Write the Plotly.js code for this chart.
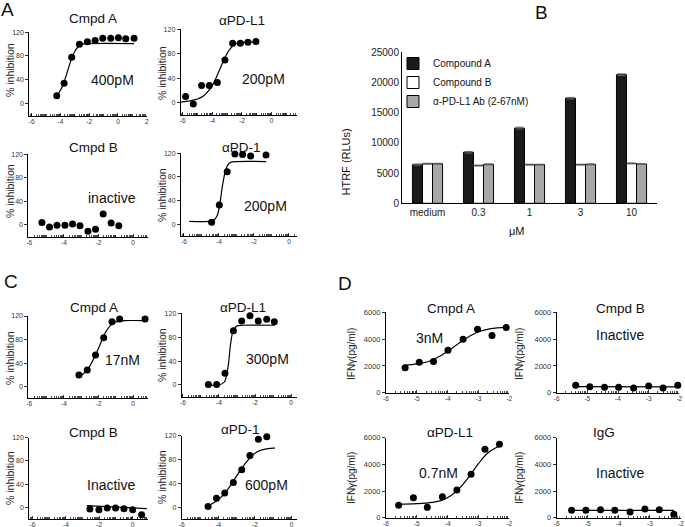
<!DOCTYPE html>
<html><head><meta charset="utf-8">
<script src="https://cdn.plot.ly/plotly-3.0.1.min.js"></script>
<style>html,body{margin:0;padding:0;background:#fff}#chart{width:685px;height:527px}</style>
</head><body><div id="chart"></div>
<script>
// ================= DATA =================
// Panel A (log[M] vs % inhibition)
const aCmpdA_x = [-4.26,-3.75,-3.22,-2.68,-2.13,-1.59,-1.06,-0.50,0.03,0.54,1.12];
const aCmpdA_y = [13,34,78,100,104,106,110,110,111,109,110];
const aCmpdA_fitX = [-4.38,-4.0,-3.75,-3.5,-3.25,-3.0,-2.75,-2.5,-2.0,1.12];
const aCmpdA_fitY = [10,22,36,55,74,88,96,100,101,101];

const aPDL1_x = [-5.80,-5.28,-4.72,-4.20,-3.66,-3.15,-2.63,-2.11,-1.60,-1.06];
const aPDL1_y = [10,-2,28,28,33,70,97,97,99,100];
const aPDL1_fitX = [-6.1,-5.5,-5.0,-4.6,-4.3,-4.0,-3.7,-3.4,-3.1,-2.8,-2.5,-2.2,-1.06];
const aPDL1_fitY = [1,3,6,11,18,28,43,60,76,88,95,98,99];

const aCmpdB_x = [-5.27,-4.83,-4.40,-3.94,-3.50,-3.07,-2.61,-2.17,-1.73,-1.27,-0.83];
const aCmpdB_y = [4,-3.4,-0.6,-0.6,1.7,-1.1,-10.8,-7.4,18.7,3.4,-1.1];

const aPD1_x = [-4.42,-3.98,-3.53,-3.09,-2.65,-2.19,-1.75,-1.31];
const aPD1_y = [3.4,32.7,89,119,118,115.5,121,117];
const aPD1_fitX = [-5.7,-4.6,-4.3,-4.1,-3.95,-3.8,-3.65,-3.5,-3.3,-3.0,-1.3];
const aPD1_fitY = [5,5,7,15,35,65,88,100,105,106,106];

// Panel B (HTRF, RLUs)
const bCategories = ['medium','0.3','1','3','10'];
const bCompoundA = [6400,8450,12450,17400,21300];
const bCompoundB = [6550,6250,6400,6400,6600];
const bAntiPDL1 = [6550,6450,6400,6450,6500];
const bErrA = [100,120,150,130,130];
const bErrB = [80,80,80,80,80];
const bErrPDL1 = [80,80,80,80,80];

// Panel C
const cCmpdA_x = [-3.13,-2.65,-2.17,-1.70,-1.22,-0.78,0.69];
const cCmpdA_y = [19.8,28.3,53.8,83.2,110.4,115,115];
const cCmpdA_fitX = [-3.1,-2.8,-2.5,-2.2,-1.9,-1.6,-1.3,-1.0,-0.5,0.7];
const cCmpdA_fitY = [17,24,35,52,72,92,104,110,112,112];

const cPDL1_x = [-4.59,-4.13,-3.67,-3.20,-2.74,-2.28,-1.82,-1.35,-0.93];
const cPDL1_y = [1,1,19.6,91,107,116,107,110,106];
const cPDL1_fitX = [-4.6,-4.0,-3.7,-3.5,-3.35,-3.2,-3.0,-2.7,-0.9];
const cPDL1_fitY = [0,0,5,30,70,92,99,100,100];

const cCmpdB_x = [-2.56,-2.02,-1.52,-1.02,-0.52,0.0,0.54];
const cCmpdB_y = [-2.9,-4,-1.1,-1.1,-2.3,-4,-12.6];
const cCmpdB_fitX = [-2.75,0.85];
const cCmpdB_fitY = [3,-2];

const cPD1_x = [-4.56,-4.10,-3.65,-3.18,-2.72,-2.27,-1.81,-1.35];
const cPD1_y = [1.1,15,23.5,41.3,62.6,86.6,114,118.4];
const cPD1_fitX = [-4.55,-4.2,-3.9,-3.6,-3.3,-3.0,-2.7,-2.4,-2.1,-1.8,-1.5,-1.0,-0.9];
const cPD1_fitY = [2,8,15,25,38,52,66,78,88,94,97,99,99];

// Panel D (IFNγ pg/ml)
const dCmpdA_x = [-5.38,-4.92,-4.46,-3.99,-3.50,-3.03,-2.56,-2.10];
const dCmpdA_y = [1870,2270,2320,3160,3980,4730,4260,4860];
const dCmpdA_fitX = [-5.4,-5.0,-4.6,-4.2,-3.9,-3.6,-3.3,-3.0,-2.6,-2.1];
const dCmpdA_fitY = [2050,2150,2350,2800,3250,3750,4200,4550,4780,4880];

const dCmpdB_x = [-5.38,-4.92,-4.44,-3.98,-3.49,-3.00,-2.53,-2.05];
const dCmpdB_y = [550,450,400,400,350,500,350,550];
const dCmpdB_fitX = [-5.38,-2.05];
const dCmpdB_fitY = [460,440];

const dPDL1_x = [-5.59,-5.11,-4.66,-4.17,-3.70,-3.24,-2.79,-2.32];
const dPDL1_y = [925,1500,775,1575,2075,3250,5125,5500];
const dPDL1_fitX = [-5.6,-5.0,-4.5,-4.2,-3.9,-3.6,-3.3,-3.0,-2.7,-2.35];
const dPDL1_fitY = [1000,1050,1150,1300,1650,2250,3100,4050,4850,5350];

const dIgG_x = [-5.52,-5.06,-4.59,-4.13,-3.64,-3.16,-2.70,-2.23];
const dIgG_y = [550,550,600,550,425,650,600,250];
const dIgG_fitX = [-5.52,-2.23];
const dIgG_fitY = [550,550];

const inhibTicks = [0,40,80,120];
const ifnTicks = [0,2000,4000,6000];
const logMinorOffsets = [0.301,0.477,0.602,0.699,0.778,0.845,0.903,0.954];

// ================= LAYOUT =================
const W = 685, H = 527;
const FONT = 'Liberation Sans, Arial, DejaVu Sans, sans-serif';
const traces = [];
const annotations = [];
const layout = {
  width: W, height: H, margin:{l:0,r:0,t:0,b:0},
  paper_bgcolor:'#fff', plot_bgcolor:'rgba(0,0,0,0)',
  showlegend:true, font:{family:FONT,color:'#000'},
  annotations: annotations,
  legend:{x:393/W, y:1-49/H, xanchor:'left', yanchor:'top', bgcolor:'rgba(0,0,0,0)',
          font:{size:10,family:FONT,color:'#111'}, itemwidth:30, tracegroupgap:0}
};

function minorVals(xr, major) {
  const out = [];
  for (let d = Math.floor(xr[0]); d < Math.ceil(xr[1]); d++) {
    if (!major.includes(d) && d >= xr[0]) out.push(d);
    logMinorOffsets.forEach(o => { const v = d + o; if (v > xr[0] && v < xr[1]) out.push(v); });
  }
  return out;
}

let idx = 0;
function panel(box, xr, yr, xticks, yticks, pts, fit, title, note, ytitle) {
  idx++;
  const sfx = idx === 1 ? '' : String(idx);
  const xa = 'xaxis' + sfx, ya = 'yaxis' + sfx;
  layout[xa] = {domain:[box.l/W, box.r/W], range:xr, anchor:'y'+sfx,
    showline:true, linecolor:'#000', linewidth:1, mirror:false,
    ticks:'inside', ticklen:3, tickwidth:0.8, tickcolor:'#000',
    tickmode:'array', tickvals:xticks, ticktext:xticks.map(v=>String(v)),
    tickfont:{size:6.5,family:FONT,color:'#333'}, ticklabelstandoff:-1,
    showgrid:false, zeroline:false, fixedrange:true,
    minor:{tickmode:'array', tickvals:minorVals(xr, xticks), ticks:'inside', ticklen:2, tickwidth:0.7, tickcolor:'#000', showgrid:false}};
  layout[ya] = {domain:[1-box.b/H, 1-box.t/H], range:yr, anchor:'x'+sfx,
    showline:true, linecolor:'#000', linewidth:1,
    ticks:'outside', ticklen:3, tickwidth:0.8, tickcolor:'#000',
    tickmode:'array', tickvals:yticks, ticktext:yticks.map(v=>String(v)),
    tickfont:{size:ytitle[4],family:FONT,color:'#333'},
    showgrid:false, zeroline:false, fixedrange:true};
  if (fit) traces.push({type:'scatter', mode:'lines', x:fit[0], y:fit[1], xaxis:'x'+sfx, yaxis:'y'+sfx,
    line:{color:'#000', width:1.2, shape:'spline', smoothing:1}, showlegend:false, hoverinfo:'skip'});
  traces.push({type:'scatter', mode:'markers', x:pts[0], y:pts[1], xaxis:'x'+sfx, yaxis:'y'+sfx,
    marker:{color:'#000', size:7}, showlegend:false, cliponaxis:false});
  annotations.push({text:title[0], x:title[1]/W, y:1-title[2]/H, xref:'paper', yref:'paper',
    showarrow:false, font:{size:13.5,family:FONT,color:'#111'}, xanchor:'center', yanchor:'middle'});
  annotations.push({text:note[0], x:note[1]/W, y:1-note[2]/H, xref:'paper', yref:'paper',
    showarrow:false, font:{size:14,family:FONT,color:'#111'}, xanchor:'center', yanchor:'middle'});
  annotations.push({text:ytitle[0], x:ytitle[1]/W, y:1-ytitle[2]/H, xref:'paper', yref:'paper',
    showarrow:false, textangle:-90, font:{size:ytitle[3],family:FONT,color:'#222'}, xanchor:'center', yanchor:'middle'});
}

const xA = [-6,-4,-2,0,2];
const xC = [-6,-4,-2,0];
const xD = [-6,-5,-4,-3,-2];
const IN = '% inhibition', IF = 'IFNγ(pg/ml)';

// Panel A
panel({l:29.3,r:147,t:32.3,b:116}, [-6.17,2.02], [-21.4,120], xA, inhibTicks,
  [aCmpdA_x,aCmpdA_y], [aCmpdA_fitX,aCmpdA_fitY], ['Cmpd A',93,18], ['400pM',113,80], [IN,10,70,10.5,7]);
panel({l:180.7,r:297,t:29.3,b:115}, [-6.13,1.71], [-20.1,120], xA, inhibTicks,
  [aPDL1_x,aPDL1_y], [aPDL1_fitX,aPDL1_fitY], ['αPD-L1',242,20], ['200pM',263,79], [IN,162,73,10.5,7]);
panel({l:28.4,r:148,t:154.3,b:236.7}, [-6.05,0.86], [-19.9,120], xC, inhibTicks,
  [aCmpdB_x,aCmpdB_y], null, ['Cmpd B',93,147], ['inactive',112,198], [IN,10,191,10.5,7]);
panel({l:181,r:297,t:153.3,b:236}, [-6.17,0.46], [-19.8,120], xA.slice(0,4), inhibTicks,
  [aPD1_x,aPD1_y], [aPD1_fitX,aPD1_fitY], ['αPD-1',241,147], ['200pM',265,206], [IN,162,195,10.5,7]);
// Panel C
panel({l:28.4,r:148,t:316,b:398}, [-6.05,0.86], [-19.2,120], xC, inhibTicks,
  [cCmpdA_x,cCmpdA_y], [cCmpdA_fitX,cCmpdA_fitY], ['Cmpd A',94,307], ['17nM',122,360], [IN,10,358,10.5,7]);
panel({l:181.7,r:297,t:313.3,b:396.7}, [-6.07,0.33], [-19.6,120], xC, inhibTicks,
  [cPDL1_x,cPDL1_y], [cPDL1_fitX,cPDL1_fitY], ['αPD-L1',243,307], ['300pM',267,359], [IN,162,355,10.5,7]);
panel({l:29.3,r:148,t:437.7,b:519}, [-6.19,0.92], [-19.9,120], xC, inhibTicks,
  [cCmpdB_x,cCmpdB_y], [cCmpdB_fitX,cCmpdB_fitY], ['Cmpd B',93,432], ['Inactive',111,485], [IN,10,478,10.5,7]);
panel({l:181.7,r:297,t:435.7,b:519}, [-6.0,0.3], [-20.1,120], xC, inhibTicks,
  [cPD1_x,cPD1_y], [cPD1_fitX,cPD1_fitY], ['αPD-1',240,429], ['600pM',266,485], [IN,162,477,10.5,7]);
// Panel D
panel({l:386,r:509.3,t:312.3,b:392.7}, [-6,-2], [0,6000], xD, ifnTicks,
  [dCmpdA_x,dCmpdA_y], [dCmpdA_fitX,dCmpdA_fitY], ['Cmpd A',451,308], ['3nM',429,338], [IF,351,354,10,7.5]);
panel({l:556.7,r:679.3,t:312.3,b:392.7}, [-6,-2], [0,6000], xD, ifnTicks,
  [dCmpdB_x,dCmpdB_y], [dCmpdB_fitX,dCmpdB_fitY], ['Cmpd B',620,308], ['Inactive',620,335], [IF,519,354,10,7.5]);
panel({l:386,r:509.3,t:437.7,b:517.7}, [-6,-2], [0,6000], xD, ifnTicks,
  [dPDL1_x,dPDL1_y], [dPDL1_fitX,dPDL1_fitY], ['αPD-L1',450,432], ['0.7nM',438,473], [IF,351,478,10,7.5]);
panel({l:556.7,r:681,t:437.7,b:517.7}, [-6,-2], [0,6000], xD, ifnTicks,
  [dIgG_x,dIgG_y], [dIgG_fitX,dIgG_fitY], ['IgG',604,432], ['Inactive',620,473], [IF,519,478,10,7.5]);

// Panel B (bar chart)
idx++;
const bs = String(idx);
layout['xaxis'+bs] = {domain:[402/W,657/W], anchor:'y'+bs, type:'category', range:[-0.5,4.5],
  showline:true, linecolor:'#000', linewidth:1, ticks:'', tickfont:{size:10,family:FONT,color:'#222'},
  showgrid:false, zeroline:false, fixedrange:true};
layout['yaxis'+bs] = {domain:[1-203.3/H,1-52.3/H], anchor:'x'+bs, range:[0,25000],
  showline:true, linecolor:'#000', linewidth:1, ticks:'', tickvals:[0,5000,10000,15000,20000,25000],
  ticktext:['0','5000','10000','15000','20000','25000'], tickfont:{size:10,family:FONT,color:'#222'},
  showgrid:false, zeroline:false, fixedrange:true};
layout.barmode = 'group';
layout.bargap = 0.41;
layout.bargroupgap = 0;
const barCommon = {type:'bar', x:bCategories, xaxis:'x'+bs, yaxis:'y'+bs, hoverinfo:'skip'};
traces.push(Object.assign({}, barCommon, {name:'Compound A', y:bCompoundA,
  marker:{color:'#1a1a1a', line:{color:'#000',width:1}},
  error_y:{type:'data', array:bErrA, visible:true, color:'#666', thickness:1, width:4}}));
traces.push(Object.assign({}, barCommon, {name:'Compound B', y:bCompoundB,
  marker:{color:'#ffffff', line:{color:'#000',width:1}},
  error_y:{type:'data', array:bErrB, visible:true, color:'#666', thickness:1, width:4}}));
traces.push(Object.assign({}, barCommon, {name:'α-PD-L1 Ab (2-67nM)', y:bAntiPDL1,
  marker:{color:'#a8a8a8', line:{color:'#000',width:1}},
  error_y:{type:'data', array:bErrPDL1, visible:true, color:'#666', thickness:1, width:4}}));
annotations.push({text:'HTRF (RLUs)', x:345/W, y:1-127/H, xref:'paper', yref:'paper', showarrow:false,
  textangle:-90, font:{size:11,family:FONT,color:'#111'}});
annotations.push({text:'μM', x:527/W, y:1-231/H, xref:'paper', yref:'paper', showarrow:false,
  font:{size:11,family:FONT,color:'#111'}});

// Panel letters
[['A',8,10],['B',541,12],['C',11,281],['D',345,283]].forEach(p => annotations.push({
  text:p[0], x:p[1]/W, y:1-p[2]/H, xref:'paper', yref:'paper', showarrow:false,
  font:{size:19,family:FONT,color:'#111'}, xanchor:'center', yanchor:'middle'}));

Plotly.newPlot('chart', traces, layout, {displayModeBar:false, staticPlot:true});
</script></body></html>
